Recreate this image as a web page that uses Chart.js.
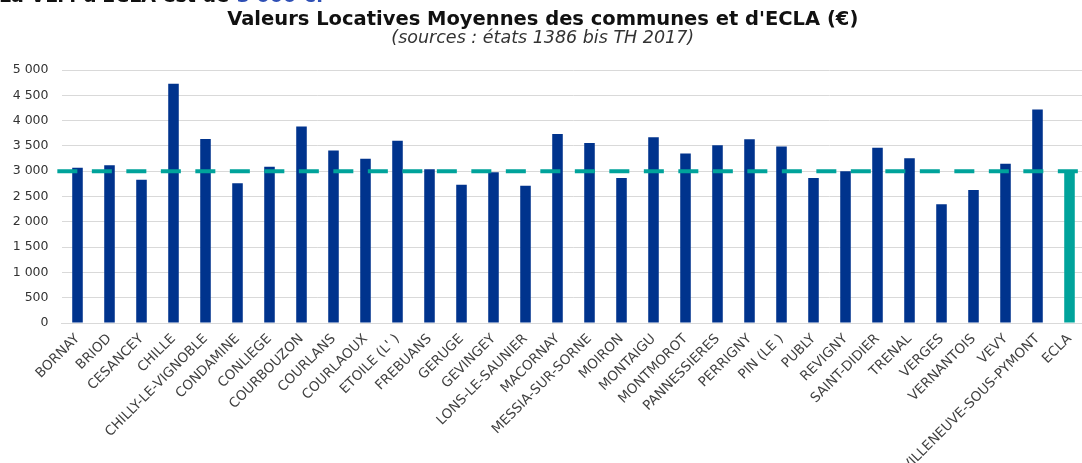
<!DOCTYPE html>
<html>
<head>
<meta charset="utf-8">
<script src="https://cdn.jsdelivr.net/npm/chart.js@4.4.1/dist/chart.umd.min.js"></script>
<style>
  html, body { margin: 0; padding: 0; background: #fff; overflow: hidden; }
  #wrap { position: absolute; left: 0; top: 0; width: 1090px; height: 463px; }
</style>
</head>
<body>
<div id="wrap"><canvas id="vlmChart" width="1090" height="463"></canvas></div>
<script>
// Communes of ECLA and their average rental values (€)
const communes = [
    'BORNAY', 'BRIOD', 'CESANCEY', 'CHILLE', 'CHILLY-LE-VIGNOBLE', 'CONDAMINE',
    'CONLIEGE', 'COURBOUZON', 'COURLANS', 'COURLAOUX', "ETOILE (L' )", 'FREBUANS',
    'GERUGE', 'GEVINGEY', 'LONS-LE-SAUNIER', 'MACORNAY', 'MESSIA-SUR-SORNE', 'MOIRON',
    'MONTAIGU', 'MONTMOROT', 'PANNESSIERES', 'PERRIGNY', 'PIN (LE )', 'PUBLY',
    'REVIGNY', 'SAINT-DIDIER', 'TRENAL', 'VERGES', 'VERNANTOIS', 'VEVY',
    'VILLENEUVE-SOUS-PYMONT', 'ECLA'
];
const vlmValues = [
    3070, 3120, 2830, 4730, 3635, 2760,
    3090, 3885, 3410, 3245, 3600, 3040,
    2730, 2980, 2710, 3735, 3555, 2865,
    3670, 3350, 3515, 3630, 3490, 2865,
    3000, 3465, 3255, 2345, 2630, 3145,
    4220, 3000
];
const eclaAverage = 3000;
const yTicks = [0, 500, 1000, 1500, 2000, 2500, 3000, 3500, 4000, 4500, 5000];

const chartTitle = "Valeurs Locatives Moyennes des communes et d'ECLA (€)";
const chartSubtitle = '(sources : états 1386 bis TH 2017)';
const headerText = "La VLM d'ECLA est de ";
const headerValue = '3 000 €.';

const BLUE = '#00338D';
const TEAL = '#00A39B';
const FONT = "'DejaVu Sans', 'Liberation Sans', sans-serif";

function formatThousands(v) {
    return String(v).replace(/\B(?=(\d{3})+(?!\d))/g, ' ');
}

// header sentence, cut off at the top of the picture
const headerPlugin = {
    id: 'header',
    afterDraw(chart) {
        const ctx = chart.ctx;
        ctx.save();
        ctx.font = 'bold 19px ' + FONT;
        ctx.textBaseline = 'alphabetic';
        ctx.fillStyle = '#111';
        ctx.fillText(headerText, -1, 2);
        const w = ctx.measureText(headerText).width;
        ctx.fillStyle = '#2E4FB5';
        ctx.fillText(headerValue, w, 2);
        ctx.restore();
    }
};

const barColors = communes.map(c => c === 'ECLA' ? TEAL : BLUE);

new Chart(document.getElementById('vlmChart').getContext('2d'), {
    type: 'bar',
    data: {
        labels: communes,
        datasets: [
            {
                type: 'line',
                label: 'Moyenne ECLA',
                xAxisID: 'x2',
                yAxisID: 'y',
                data: [{ x: -0.13, y: eclaAverage }, { x: communes.length, y: eclaAverage }],
                borderColor: TEAL,
                borderWidth: 4,
                borderDash: [20, 14.5],
                pointRadius: 0,
                fill: false,
                clip: false,
                order: 0
            },
            {
                label: 'VLM',
                xAxisID: 'x',
                yAxisID: 'y',
                data: vlmValues,
                backgroundColor: barColors,
                borderWidth: 0,
                grouped: false,
                categoryPercentage: 1,
                barPercentage: 0.33,
                order: 1
            }
        ]
    },
    options: {
        responsive: false,
        animation: false,
        layout: { padding: { left: 0, right: 4.5, top: 0, bottom: 0 } },
        scales: {
            x: {
                grid: { display: false },
                border: { display: true, color: '#D9D9D9', width: 1 },
                ticks: {
                    autoSkip: false,
                    minRotation: 45,
                    maxRotation: 45,
                    padding: 0,
                    color: '#404040',
                    font: { family: FONT, size: 13.5 }
                },
                afterFit: scale => { scale.height = 140; }
            },
            x2: {
                type: 'linear',
                display: false,
                offset: false,
                grid: { offset: false },
                min: 0,
                max: communes.length
            },
            y: {
                min: 0,
                max: 5000,
                afterBuildTicks: scale => { scale.ticks = yTicks.map(v => ({ value: v })); },
                grid: { color: '#D9D9D9', lineWidth: 1, drawTicks: false },
                border: { display: false },
                ticks: {
                    padding: 13,
                    color: '#333',
                    font: { family: FONT, size: 12.5 },
                    callback: v => formatThousands(v)
                },
                afterFit: scale => { scale.width = 61.5; }
            }
        },
        plugins: {
            legend: { display: false },
            tooltip: { enabled: false },
            title: {
                display: true,
                text: chartTitle,
                color: '#111',
                font: { family: FONT, size: 19.5, weight: 'bold', lineHeight: 1 },
                padding: { top: 10.5, bottom: 0 }
            },
            subtitle: {
                display: true,
                text: chartSubtitle,
                color: '#333',
                font: { family: FONT, size: 17.5, style: 'italic', lineHeight: 1 },
                padding: { top: 0, bottom: 22.5 }
            }
        }
    },
    plugins: [headerPlugin]
});
</script>
</body>
</html>
